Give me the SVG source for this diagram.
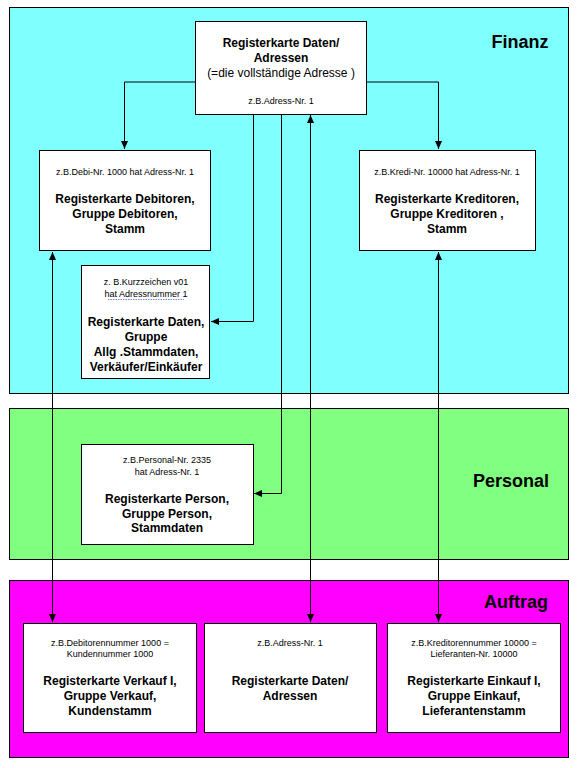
<svg xmlns="http://www.w3.org/2000/svg" width="578" height="768" viewBox="0 0 578 768">
<defs>
<style>
.panel{stroke:#000;stroke-width:1}
.box{fill:#fff;stroke:#000;stroke-width:1}
text{font-family:"Liberation Sans",Arial,sans-serif;fill:#000;text-anchor:middle}
.b{font-size:12px;font-weight:bold}
.n{font-size:12px}
.s{font-size:9px}
.title{font-size:18px;font-weight:bold}
.c{fill:none;stroke:#000;stroke-width:1}
</style>
<marker id="ah" viewBox="0 0 8 8" refX="8" refY="4" markerWidth="8" markerHeight="8" markerUnits="userSpaceOnUse" orient="auto-start-reverse">
<path d="M0,0.5 L8,4 L0,7.5 z" fill="#000"/>
</marker>
</defs>
<rect width="578" height="768" fill="#fff"/>
<g id="panel-finanz">
<rect class="panel" x="9.5" y="7.5" width="559" height="386" fill="#80ffff"/>
<text class="title" x="520" y="48">Finanz</text>
</g>
<g id="panel-personal">
<rect class="panel" x="9.5" y="408.5" width="559" height="151" fill="#80ff80"/>
<text class="title" x="511" y="487">Personal</text>
</g>
<g id="panel-auftrag">
<rect class="panel" x="9.5" y="580.5" width="559" height="177" fill="#ff00ff"/>
<text class="title" x="516" y="608">Auftrag</text>
</g>
<g id="connectors">
<polyline class="c" points="196,82 124.5,82 124.5,149" marker-end="url(#ah)"/>
<polyline class="c" points="366,82 438.5,82 438.5,149" marker-end="url(#ah)"/>
<polyline class="c" points="253.5,115 253.5,321.5 211,321.5" marker-end="url(#ah)"/>
<polyline class="c" points="281.5,115 281.5,493.5 254,493.5" marker-end="url(#ah)"/>
<line class="c" x1="310.5" y1="115" x2="310.5" y2="622" marker-start="url(#ah)" marker-end="url(#ah)"/>
<line class="c" x1="52.5" y1="252" x2="52.5" y2="622" marker-start="url(#ah)" marker-end="url(#ah)"/>
<line class="c" x1="438.5" y1="252" x2="438.5" y2="622" marker-start="url(#ah)" marker-end="url(#ah)"/>
</g>
<g id="node-adressen-top">
<rect class="box" x="195.5" y="21.5" width="171" height="93"/>
<text class="b" x="281" y="47">Registerkarte Daten/</text>
<text class="b" x="281" y="62">Adressen</text>
<text class="n" x="281" y="77">(=die vollständige Adresse )</text>
<text class="s" x="281" y="104">z.B.Adress-Nr. 1</text>
</g>
<g id="node-debitoren">
<rect class="box" x="39.5" y="150.5" width="171" height="100"/>
<text class="s" x="125" y="175">z.B.Debi-Nr. 1000 hat Adress-Nr. 1</text>
<text class="b" x="125" y="203">Registerkarte Debitoren,</text>
<text class="b" x="125" y="218">Gruppe Debitoren,</text>
<text class="b" x="125" y="233">Stamm</text>
</g>
<g id="node-kreditoren">
<rect class="box" x="359.5" y="150.5" width="176" height="100"/>
<text class="s" x="447" y="175">z.B.Kredi-Nr.  10000 hat Adress-Nr. 1</text>
<text class="b" x="447" y="203">Registerkarte Kreditoren,</text>
<text class="b" x="447" y="218">Gruppe Kreditoren ,</text>
<text class="b" x="447" y="233">Stamm</text>
</g>
<g id="node-kurzzeichen">
<rect class="box" x="81.5" y="265.5" width="128" height="113"/>
<text class="s" x="146" y="285">z. B.Kurzzeichen  v01</text>
<text class="s" x="146" y="297">hat  Adressnummer 1</text>
<line x1="108" y1="299.5" x2="184" y2="299.5" stroke="#4a6fd8" stroke-width="0.8" stroke-dasharray="1.5,1"/>
<text class="b" x="146" y="326">Registerkarte Daten,</text>
<text class="b" x="146" y="341">Gruppe</text>
<text class="b" x="146" y="356">Allg .Stammdaten,</text>
<text class="b" x="146" y="371">Verkäufer/Einkäufer</text>
</g>
<g id="node-person">
<rect class="box" x="81.5" y="444.5" width="172" height="100"/>
<text class="s" x="167" y="463">z.B.Personal-Nr. 2335</text>
<text class="s" x="167" y="475">hat Adress-Nr. 1</text>
<text class="b" x="167" y="503">Registerkarte Person,</text>
<text class="b" x="167" y="518">Gruppe Person,</text>
<text class="b" x="167" y="532">Stammdaten</text>
</g>
<g id="node-verkauf">
<rect class="box" x="23.5" y="623.5" width="173" height="109"/>
<text class="s" x="110" y="646">z.B.Debitorennummer 1000 =</text>
<text class="s" x="110" y="657">Kundennummer 1000</text>
<text class="b" x="110" y="685">Registerkarte Verkauf I,</text>
<text class="b" x="110" y="700">Gruppe Verkauf,</text>
<text class="b" x="110" y="715">Kundenstamm</text>
</g>
<g id="node-adressen-auftrag">
<rect class="box" x="204.5" y="623.5" width="172" height="109"/>
<text class="s" x="290" y="646">z.B.Adress-Nr. 1</text>
<text class="b" x="290" y="685">Registerkarte Daten/</text>
<text class="b" x="290" y="700">Adressen</text>
</g>
<g id="node-einkauf">
<rect class="box" x="387.5" y="623.5" width="173" height="109"/>
<text class="s" x="474" y="646">z.B.Kreditorennummer 10000 =</text>
<text class="s" x="474" y="657">Lieferanten-Nr. 10000</text>
<text class="b" x="474" y="685">Registerkarte Einkauf I,</text>
<text class="b" x="474" y="700">Gruppe Einkauf,</text>
<text class="b" x="474" y="715">Lieferantenstamm</text>
</g>
</svg>
